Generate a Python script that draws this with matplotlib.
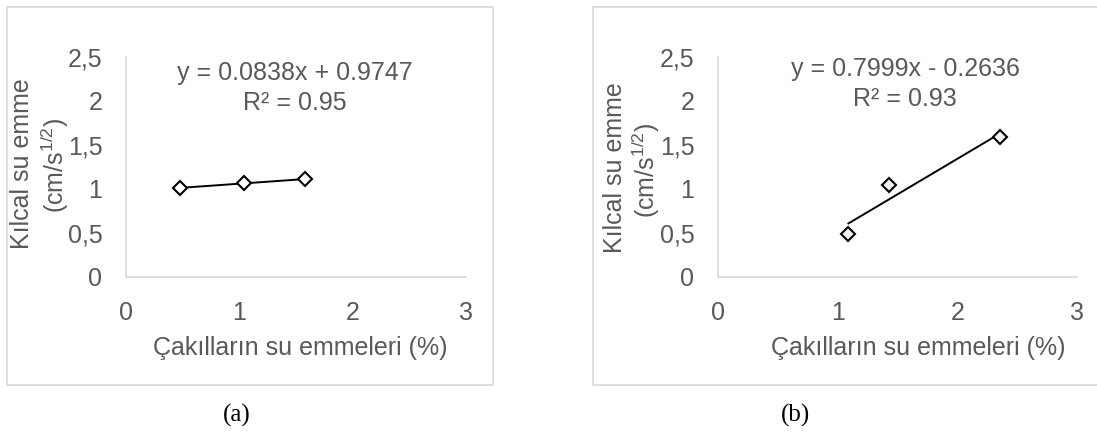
import numpy as np
import matplotlib.pyplot as plt
from matplotlib.patches import Rectangle

# values
x_a = [0.48, 1.04, 1.58]
y_a = [1.01, 1.07, 1.11]
x_b = [1.09, 1.43, 2.36]
y_b = [0.49, 1.045, 1.59]

eq_a = "y = 0.0838x + 0.9747\nR² = 0.95"
eq_b = "y = 0.7999x - 0.2636\nR² = 0.93"

x_ticks = [0, 1, 2, 3]
y_ticks = [0, 0.5, 1, 1.5, 2, 2.5]
y_tick_labels = ["0", "0,5", "1", "1,5", "2", "2,5"]

x_label = "Çakılların su emmeleri (%)"
y_label_1 = "Kılcal su emme"
y_label_2 = "(cm/s$^{1/2}$)"

GRAY = "#595959"
LIGHT = "#d9d9d9"
FS = 18

plt.rcParams['font.family'] = ['Liberation Sans', 'DejaVu Sans']
plt.rcParams['mathtext.fontset'] = 'custom'
plt.rcParams['mathtext.rm'] = 'Liberation Sans'
plt.rcParams['mathtext.it'] = 'Liberation Sans'

W, H = 1097, 437
fig = plt.figure(figsize=(W / 100, H / 100), dpi=100)

# outer chart boxes (like the Excel chart area borders)
fig.patches.append(Rectangle((7 / W, 52 / H), 486 / W, 378 / H, transform=fig.transFigure,
                             fill=False, edgecolor=LIGHT, linewidth=1.2))
fig.patches.append(Rectangle((593 / W, 52 / H), 520 / W, 378 / H, transform=fig.transFigure,
                             fill=False, edgecolor=LIGHT, linewidth=1.2, clip_on=False))


def fx(px):
    return px / W


def fy(py):
    return 1 - py / H


def draw_panel(rect, xs, ys, eq, eq_px, face, caption, cap_x, xlab_x, ylab1, ylab2):
    ax = fig.add_axes(rect)
    # trendline from a least squares fit over the data range
    k, b = np.polyfit(xs, ys, 1)
    xl = np.array([min(xs), max(xs)])
    ax.plot(xl, k * xl + b, color="black", linewidth=1.4, zorder=2)
    ax.plot(xs, ys, linestyle="none", marker="D", markersize=7.5,
            markerfacecolor=face, markeredgecolor="black", markeredgewidth=1.5, zorder=3)
    ax.set_xlim(0, 3)
    ax.set_ylim(0, 2.5)
    ax.set_xticks(x_ticks)
    ax.set_yticks(y_ticks)
    ax.set_yticklabels(y_tick_labels)
    ax.tick_params(length=0, labelsize=FS, labelcolor=GRAY)
    ax.tick_params(axis="x", pad=17)
    ax.tick_params(axis="y", pad=17)
    for s in ["top", "right"]:
        ax.spines[s].set_visible(False)
    for s in ["left", "bottom"]:
        ax.spines[s].set_color(LIGHT)
        ax.spines[s].set_linewidth(1.2)
    fig.text(fx(xlab_x), fy(348), x_label, ha="center", va="center",
             fontsize=FS, color=GRAY)
    fig.text(fx(ylab1[0]), fy(ylab1[1]), y_label_1, ha="center", va="center",
             rotation=90, fontsize=FS, color=GRAY)
    fig.text(fx(ylab2[0]), fy(ylab2[1]), y_label_2, ha="center", va="center",
             rotation=90, fontsize=FS, color=GRAY)
    fig.text(fx(eq_px[0]), fy(eq_px[1]), eq, ha="center", va="center",
             fontsize=FS, color=GRAY, linespacing=1.3)
    fig.text(fx(cap_x), fy(415), caption, ha="center", va="center",
             fontsize=18, family="Liberation Serif", color="black")
    return ax


ax_a = draw_panel([126 / W, 160 / H, 340 / W, 220 / H], x_a, y_a, eq_a,
                  (295, 88), "white", "(a)", 237, 300, (22, 164), (55, 165))
ax_b = draw_panel([718 / W, 160 / H, 359 / W, 220 / H], x_b, y_b, eq_b,
                  (905, 84), "#f2f2f2", "(b)", 795, 918, (615, 168), (646, 170))

fig.savefig("out.png", dpi=100)
